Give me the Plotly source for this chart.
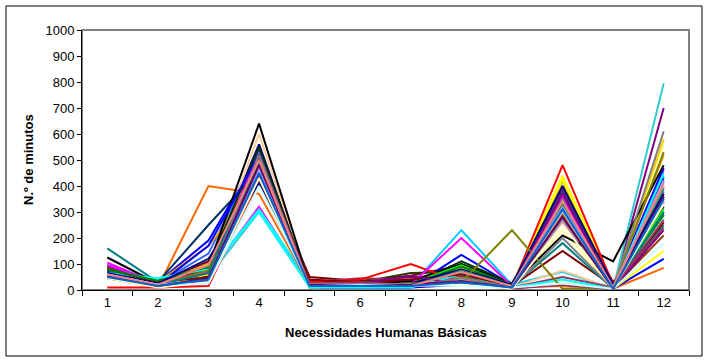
import plotly.graph_objects as go

categories = ["1", "2", "3", "4", "5", "6", "7", "8", "9", "10", "11", "12"]

s01 = [80, 20, 100, 560, 20, 15, 20, 70, 15, 370, 15, 400]
s02 = [105, 25, 60, 320, 15, 30, 20, 80, 10, 350, 10, 460]
s03 = [60, 15, 90, 450, 10, 20, 30, 75, 20, 440, 20, 300]
s04 = [90, 40, 70, 310, 30, 20, 25, 60, 15, 330, 10, 430]
s05 = [70, 20, 40, 540, 35, 35, 50, 40, 10, 390, 5, 700]
s06 = [85, 30, 110, 500, 50, 35, 55, 95, 20, 380, 30, 280]
s07 = [160, 30, 60, 480, 20, 15, 15, 100, 25, 300, 10, 250]
s08 = [75, 30, 190, 520, 10, 10, 10, 135, 20, 370, 15, 470]
s09 = [65, 20, 50, 430, 25, 15, 15, 230, 20, 70, 5, 440]
s10 = [55, 10, 40, 470, 15, 10, 15, 50, 10, 410, 5, 320]
s11 = [50, 15, 30, 440, 10, 20, 15, 45, 5, 30, 10, 280]
s12 = [60, 20, 45, 420, 20, 15, 20, 55, 15, 230, 5, 560]
s13 = [70, 25, 80, 490, 15, 25, 20, 65, 10, 340, 5, 350]
s14 = [65, 15, 55, 460, 20, 20, 30, 40, 20, 260, 5, 370]
s15 = [55, 20, 65, 450, 15, 15, 25, 35, 15, 310, 5, 400]
s16 = [75, 10, 70, 600, 25, 25, 20, 30, 10, 75, 5, 390]
s17 = [80, 25, 140, 530, 20, 15, 15, 85, 25, 360, 20, 290]
s18 = [60, 20, 50, 300, 15, 10, 15, 25, 15, 340, 5, 795]
s19 = [70, 15, 75, 430, 10, 10, 20, 60, 10, 320, 5, 300]
s20 = [65, 20, 100, 420, 15, 20, 25, 90, 15, 420, 10, 580]
s21 = [80, 30, 170, 410, 20, 15, 20, 70, 20, 400, 15, 520]
s22 = [45, 10, 400, 370, 20, 20, 15, 40, 10, 15, 5, 85]
s23 = [60, 20, 55, 410, 25, 20, 25, 35, 15, 280, 10, 380]
s24 = [50, 15, 60, 440, 20, 25, 20, 50, 10, 270, 5, 350]
s25 = [95, 30, 250, 460, 15, 15, 15, 80, 15, 360, 10, 420]
s26 = [75, 25, 70, 470, 20, 20, 25, 85, 20, 300, 5, 390]
s27 = [90, 25, 90, 550, 20, 20, 20, 110, 25, 330, 10, 360]
s28 = [55, 15, 85, 490, 35, 30, 65, 70, 20, 310, 10, 320]
s29 = [80, 20, 70, 510, 30, 30, 35, 55, 15, 290, 10, 210]
s30 = [85, 25, 55, 470, 30, 45, 40, 40, 10, 50, 10, 240]
s31 = [70, 20, 60, 480, 15, 15, 20, 65, 15, 380, 15, 430]
s32 = [65, 15, 50, 500, 20, 20, 30, 75, 10, 350, 10, 300]
s33 = [125, 25, 90, 640, 20, 20, 35, 100, 20, 210, 110, 480]
s34 = [10, 10, 15, 420, 30, 40, 100, 30, 10, 480, 20, 330]
s35 = [75, 20, 40, 460, 15, 15, 25, 95, 15, 350, 5, 310]
s36 = [70, 20, 170, 520, 10, 10, 10, 20, 10, 20, 5, 120]
s37 = [60, 15, 60, 440, 10, 15, 20, 85, 10, 430, 5, 150]
s38 = [95, 30, 70, 520, 20, 15, 20, 200, 15, 360, 5, 340]
s39 = [65, 45, 80, 300, 10, 10, 10, 60, 10, 40, 5, 450]
s40 = [80, 30, 50, 430, 40, 30, 40, 60, 15, 150, 15, 260]
s41 = [80, 35, 90, 490, 20, 20, 20, 90, 20, 330, 10, 290]
s42 = [65, 25, 120, 410, 15, 15, 25, 80, 20, 400, 20, 370]
s43 = [50, 20, 75, 440, 25, 20, 25, 30, 230, 5, 10, 530]
s44 = [55, 20, 30, 520, 20, 25, 55, 20, 10, 370, 5, 230]
s45 = [60, 20, 65, 500, 15, 20, 15, 75, 15, 180, 5, 300]
s46 = [50, 15, 40, 460, 20, 20, 15, 40, 10, 300, 5, 340]
s47 = [45, 15, 35, 520, 15, 15, 15, 45, 10, 200, 5, 610]
s48 = [55, 20, 40, 470, 20, 15, 20, 30, 10, 320, 10, 420]
s49 = [50, 15, 35, 440, 25, 30, 20, 25, 5, 20, 5, 270]
s50 = [45, 10, 30, 430, 15, 15, 15, 20, 5, 250, 5, 330]
s51 = [60, 20, 25, 400, 20, 20, 20, 15, 10, 25, 5, 180]
s52 = [55, 15, 45, 480, 20, 15, 20, 35, 10, 280, 5, 360]
s53 = [60, 20, 95, 500, 15, 15, 15, 70, 15, 340, 10, 410]
s54 = [50, 15, 40, 450, 15, 15, 15, 30, 10, 310, 5, 350]

series = [s01, s02, s03, s04, s05, s06, s07, s08, s09, s10, s11, s12, s13, s14,
          s15, s16, s17, s18, s19, s20, s21, s22, s23, s24, s25, s26, s27, s28,
          s29, s30, s31, s32, s33, s34, s35, s36, s37, s38, s39, s40, s41, s42,
          s43, s44, s45, s46, s47, s48, s49, s50, s51, s52, s53, s54]

colors = ["#000080", "#FF00FF", "#FFFF00", "#00FFFF", "#800080", "#800000", "#008080",
          "#0000FF", "#00CCFF", "#CCFFFF", "#CCFFCC", "#FFFF99", "#99CCFF", "#FF99CC",
          "#CC99FF", "#FFCC99", "#3366FF", "#33CCCC", "#99CC00", "#FFCC00", "#FF9900",
          "#FF6600", "#666699", "#969696", "#003366", "#339966", "#003300", "#333300",
          "#993300", "#993366", "#333399", "#333333", "#000000", "#FF0000", "#00FF00",
          "#0000FF", "#FFFF00", "#FF00FF", "#00FFFF", "#800000", "#008000", "#000080",
          "#808000", "#800080", "#008080", "#C0C0C0", "#808080", "#9999FF", "#993366",
          "#FFFFCC", "#CCFFFF", "#660066", "#FF8080", "#0066CC", "#CCCCFF"]

y_ticks = [0, 100, 200, 300, 400, 500, 600, 700, 800, 900, 1000]

FONT = "Liberation Sans, Arial, sans-serif"

fig = go.Figure()
for i, vals in enumerate(series):
    fig.add_trace(go.Scatter(
        x=categories, y=vals, mode="lines",
        line=dict(color=colors[i % len(colors)], width=2),
        showlegend=False, hoverinfo="skip",
    ))

fig.update_layout(
    width=709, height=362,
    margin=dict(l=82, r=20, t=30, b=72, autoexpand=False),
    paper_bgcolor="white", plot_bgcolor="white",
    font=dict(family=FONT, size=13, color="black"),
    showlegend=False,
)
fig.update_xaxes(
    type="category", range=[-0.5, 11.5], autorange=False,
    tickson="boundaries", ticks="outside", ticklen=5, automargin=False,
    tickcolor="black", showline=True, linecolor="black", linewidth=1,
    showgrid=False, zeroline=False, tickfont=dict(family=FONT, size=13),
)
fig.update_yaxes(
    range=[0, 1000], autorange=False, tickvals=y_ticks, ticks="outside", ticklen=4,
    automargin=False,
    tickcolor="black", showline=True, linecolor="black", linewidth=1,
    showgrid=False, zeroline=False, tickfont=dict(family=FONT, size=13),
)

# plot-area frame (gray) and outer chart border (black)
fig.add_shape(type="rect", xref="paper", yref="paper", x0=0, y0=0, x1=1, y1=1,
              line=dict(color="#808080", width=2), layer="below")
fig.add_shape(type="rect", xref="paper", yref="paper",
              x0=-76 / 607, y0=-66 / 260, x1=1 + 13 / 607, y1=1 + 24 / 260,
              line=dict(color="black", width=1))

fig.add_annotation(text="<b>N.º de minutos</b>", xref="paper", yref="paper",
                   x=-54 / 607, y=0.5, textangle=-90, showarrow=False,
                   xanchor="center", yanchor="middle",
                   font=dict(family=FONT, size=13))
fig.add_annotation(text="<b>Necessidades Humanas Básicas</b>", xref="paper", yref="paper",
                   x=0.5, y=-42 / 260, showarrow=False,
                   xanchor="center", yanchor="middle",
                   font=dict(family=FONT, size=13))

fig.write_html("out.html", config={"displayModeBar": False},
               post_script="document.body.style.margin='0';")
